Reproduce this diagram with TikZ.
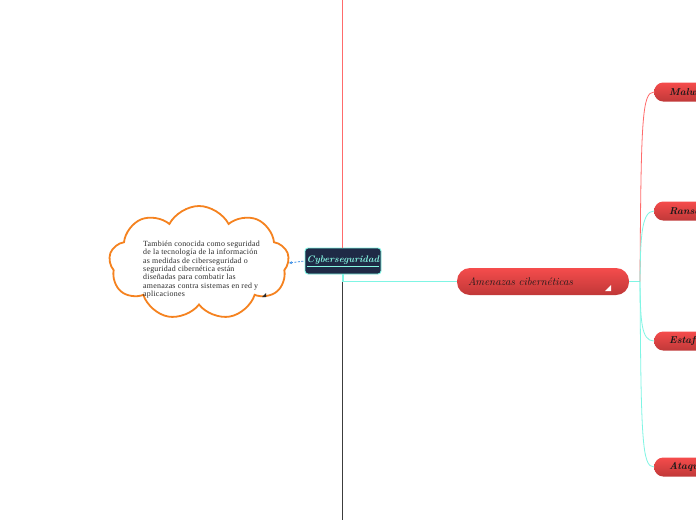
\documentclass[tikz,border=0pt]{standalone}
\usepackage{fontspec}
\newfontfamily\cloudfont[LetterSpace=3]{Liberation Serif}
\usetikzlibrary{shapes.symbols,arrows.meta}
\definecolor{redline}{HTML}{FF6B6B}
\definecolor{darkline}{HTML}{3C3C3C}
\definecolor{tealline}{HTML}{7FF5E4}
\definecolor{navy}{HTML}{1F2A46}
\definecolor{tealtext}{HTML}{86F7E3}
\definecolor{redtop}{HTML}{F54C4C}
\definecolor{redbot}{HTML}{C03838}
\definecolor{cloudorange}{HTML}{F5821F}
\definecolor{textdark}{HTML}{2A2A2A}
\definecolor{arrowblue}{HTML}{3A8EE6}
\tikzset{
  central/.style={draw=tealline, line width=0.9pt, fill=navy, rounded corners=3pt,
    minimum width=76pt, minimum height=26pt, inner sep=0pt,
    text=tealtext, font=\itshape\bfseries\fontsize{9.5}{9.5}\selectfont},
  mainbox/.style={rounded corners=13pt, top color=redtop, bottom color=redbot,
    minimum width=172pt, minimum height=27pt, inner sep=0pt,
    text=black!90, font=\itshape\fontsize{11}{11}\selectfont},
  subbox/.style={rounded corners=9pt, top color=redtop, bottom color=redbot,
    minimum height=19pt, inner ysep=0pt, inner xsep=15pt, anchor=west,
    text width=70pt, align=left,
    text=black!90, font=\itshape\bfseries\fontsize{10}{10}\selectfont},
  marker/.style={fill=white, draw=none},
  branch/.style={line width=0.8pt},
}
\begin{document}
\begin{tikzpicture}[x=1pt,y=-1pt]
\useasboundingbox (0,0) rectangle (696,520);
\fill[white] (0,0) rectangle (696,520);
% coordinates for vertical line
\coordinate (vtop) at (342.5,0);
\coordinate (vbot) at (342.5,520);
% central node
\node[central] (center) at (343,261) {\underline{Cyberseguridad}};
\draw[redline, line width=1pt] (vtop) -- (vtop |- center.north);
\draw[darkline, line width=1pt] (vbot |- center.south) -- (vbot);
% main node
\node[mainbox, text width=150pt, align=left] (amen) at (543,281.5) {Amenazas cibernéticas};
\fill[marker] (611,285) -- (611,291) -- (605,291) -- cycle;
% connector center -> amen
\draw[tealline, line width=1.2pt] (center.south) |- (amen.west);
% children
\node[subbox] (malw) at (654,92) {Malware};
\node[subbox] (rans) at (654,211) {Ransomware};
\node[subbox] (esta) at (654,341) {Estafas};
\node[subbox] (ataq) at (654,467) {Ataques};
\coordinate (hub) at (640,281.5);
\draw[tealline, line width=1.4pt] (amen.east) -- (hub);
\draw[branch, redline] (hub) .. controls (641,120) and (642,92) .. (malw.west);
\draw[branch, tealline] (hub) .. controls (640.5,240) and (641,211) .. (rans.west);
\draw[branch, tealline] (hub) .. controls (640.5,320) and (641,341) .. (esta.west);
\draw[branch, tealline] (hub) .. controls (641,440) and (642,467) .. (ataq.west);
% cloud
\node[cloud, draw=cloudorange, line width=1.8pt, fill=white, cloud puffs=9,
  cloud puff arc=125, aspect=1.6, minimum width=180pt, minimum height=114pt,
  inner sep=0pt] (cloudn) at (199,263) {};
\node[anchor=north west, inner sep=0pt, align=left, text=textdark,
  font=\cloudfont\fontsize{7.9}{8.3}\selectfont] (ctext) at (143,241)
  {También conocida como seguridad\\de la tecnología de la información\\as medidas de ciberseguridad o\\seguridad cibernética están\\diseñadas para combatir las\\amenazas contra sistemas en red y\\aplicaciones};
\fill[textdark] (266,293) -- (266,297) -- (262,297) -- cycle;
% dashed link
\draw[arrowblue, line width=0.8pt, dash pattern=on 2pt off 1.5pt, {Stealth[length=3pt,width=3pt]}-] (cloudn.east) -- (center.west);
\end{tikzpicture}
\end{document}
